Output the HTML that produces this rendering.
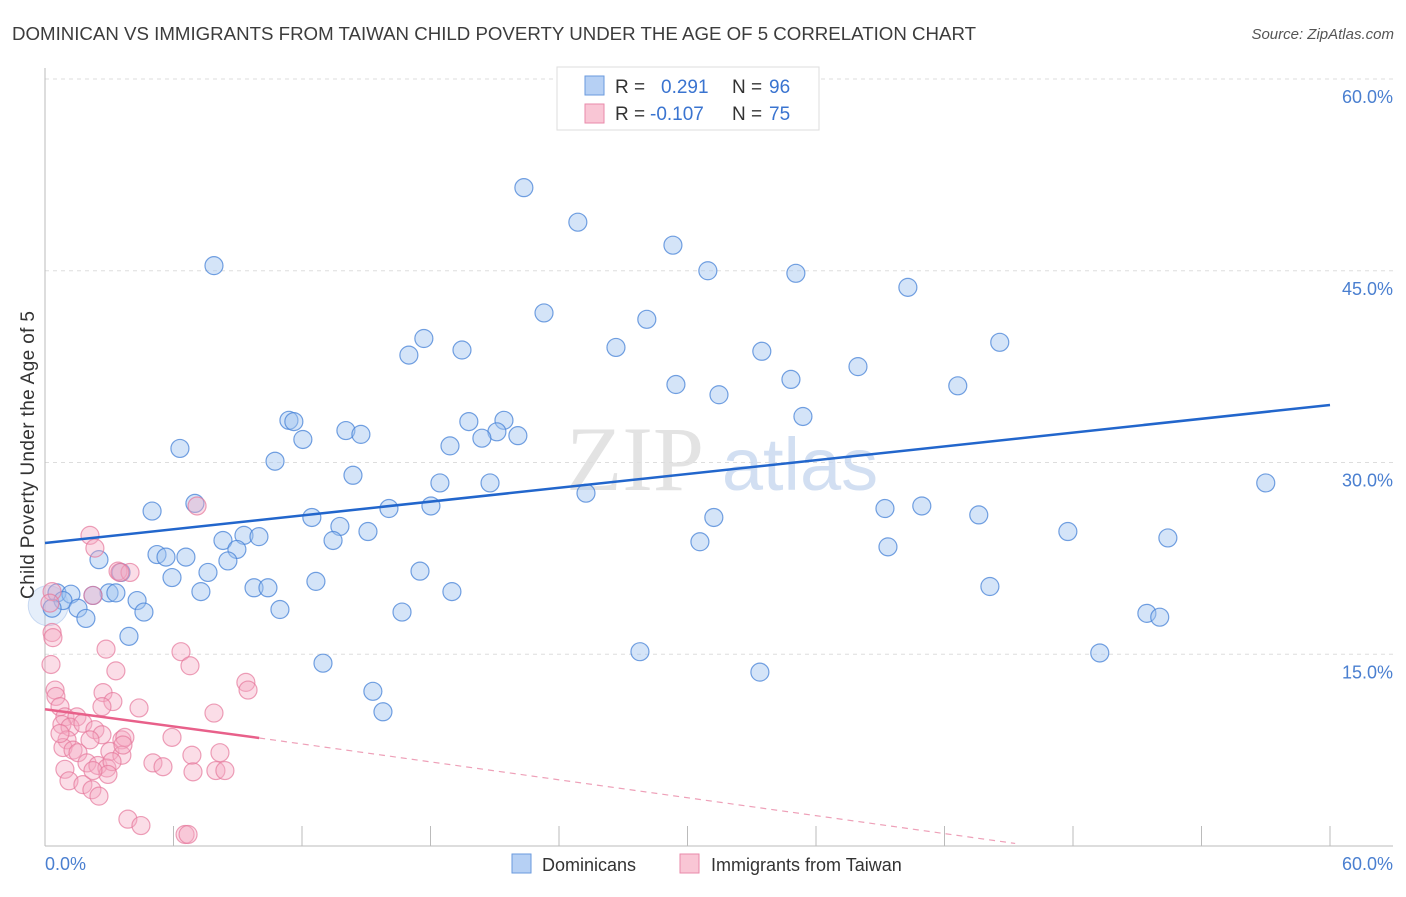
<!DOCTYPE html>
<html><head><meta charset="utf-8"><style>
body{margin:0;background:#fff;font-family:"Liberation Sans",sans-serif;}
svg text{font-family:"Liberation Sans",sans-serif;}
</style></head><body>
<svg width="1406" height="892" viewBox="0 0 1406 892">
<text x="12" y="40" font-size="18" fill="#3c3c3c" textLength="964" lengthAdjust="spacingAndGlyphs">DOMINICAN VS IMMIGRANTS FROM TAIWAN CHILD POVERTY UNDER THE AGE OF 5 CORRELATION CHART</text>
<text x="1394" y="39" font-size="15" fill="#555" font-style="italic" text-anchor="end">Source: ZipAtlas.com</text>
<g id="grid"></g>
<g>
<text x="635" y="490" font-size="92" fill="#ddd" text-anchor="middle" style="font-family:'Liberation Serif',serif" opacity="0.8">ZIP</text>
<text x="800" y="490" font-size="74" fill="#c8d8ef" text-anchor="middle" opacity="0.8">atlas</text>
</g>
<g id="axes"></g>
<g id="pts"></g>
<g id="lines"></g>
<text x="34" y="455" font-size="19" fill="#333" text-anchor="middle" textLength="288" transform="rotate(-90 34 455)">Child Poverty Under the Age of 5</text>
<text x="45" y="870" font-size="18" fill="#4a7fd0">0.0%</text>
<text x="1393" y="870" font-size="18" fill="#4a7fd0" text-anchor="end">60.0%</text>
<g>
<rect x="557" y="67" width="262" height="63" fill="#fff" stroke="#ddd"/>
<rect x="585" y="76" width="19" height="19" fill="#b6d0f4" stroke="#6a9ade"/>
<rect x="585" y="104" width="19" height="19" fill="#f9c6d5" stroke="#e98aaa"/>
<text x="615" y="93" font-size="19" fill="#333">R = </text><text x="661" y="93" font-size="19" fill="#3a74d0">0.291</text>
<text x="732" y="93" font-size="19" fill="#333">N = </text><text x="769" y="93" font-size="19" fill="#3a74d0">96</text>
<text x="615" y="120" font-size="19" fill="#333">R = </text><text x="650" y="120" font-size="19" fill="#3a74d0">-0.107</text>
<text x="732" y="120" font-size="19" fill="#333">N = </text><text x="769" y="120" font-size="19" fill="#3a74d0">75</text>
</g>
<g>
<rect x="512" y="854" width="19" height="19" fill="#b6d0f4" stroke="#6a9ade"/>
<text x="542" y="871" font-size="18" fill="#333">Dominicans</text>
<rect x="680" y="854" width="19" height="19" fill="#f9c6d5" stroke="#e98aaa"/>
<text x="711" y="871" font-size="18" fill="#333">Immigrants from Taiwan</text>
</g>
</svg>
<script>
const yTicks=[15,30,45,60];
const yTickLabels=["15.0%","30.0%","45.0%","60.0%"];
const xTicks=[0,6,12,18,24,30,36,42,48,54,60];
const blueX=[22.36,24.88,29.32,7.89,30.95,35.06,40.29,23.30,28.10,17.69,16.99,19.47,26.66,33.47,44.58,29.46,31.47,34.83,37.96,42.62,11.39,11.62,12.04,14.05,14.75,19.79,21.43,21.10,20.40,22.08,35.39,6.30,18.91,10.74,14.38,18.44,20.78,25.26,5.00,7.00,12.46,16.06,18.02,13.77,15.08,13.45,31.23,39.22,40.94,43.60,47.76,52.43,57.00,30.58,39.36,8.31,9.29,9.99,8.96,8.54,5.23,5.65,6.58,2.52,3.55,5.93,7.61,12.65,17.51,9.76,10.41,7.28,19.00,44.12,0.56,1.21,2.99,3.31,2.24,0.84,4.30,1.54,0.33,1.91,4.62,10.97,16.67,51.45,52.05,3.92,27.78,49.25,12.98,33.38,15.31,15.78];
const blueY=[51.5,48.8,47.0,45.4,45.0,44.8,43.7,41.7,41.2,39.7,38.4,38.8,39.0,38.7,39.4,36.1,35.3,36.5,37.5,36.0,33.3,33.2,31.8,32.5,32.2,33.2,33.3,32.4,31.9,32.1,33.6,31.1,31.3,30.1,29.0,28.4,28.4,27.6,26.2,26.8,25.7,26.4,26.6,25.0,24.6,23.9,25.7,26.4,26.6,25.9,24.6,24.1,28.4,23.8,23.4,23.9,24.3,24.2,23.2,22.3,22.8,22.6,22.6,22.4,21.4,21.0,21.4,20.7,21.5,20.2,20.2,19.9,19.9,20.3,19.8,19.7,19.8,19.8,19.6,19.2,19.2,18.6,18.6,17.8,18.3,18.5,18.3,18.2,17.9,16.4,15.2,15.1,14.3,13.6,12.1,10.5];
const pinkX=[2.10,2.33,3.41,3.97,3.50,2.24,0.33,0.33,0.37,2.85,6.35,6.77,0.28,3.31,9.38,9.48,0.47,0.51,2.71,3.17,2.66,0.70,4.39,7.89,0.93,1.49,0.79,1.17,1.77,2.33,2.66,3.59,5.93,1.03,2.10,3.73,0.84,1.31,1.54,3.03,3.59,6.86,8.17,1.96,2.47,2.89,3.13,5.04,5.51,6.91,7.98,8.40,0.93,2.94,1.12,1.77,2.19,2.52,3.87,4.48,6.54,6.68,3.64,2.24,0.70,7.10,0.23];
const pinkY=[24.3,23.3,21.5,21.4,21.4,19.6,19.9,16.7,16.3,15.4,15.2,14.1,14.2,13.7,12.8,12.2,12.2,11.7,12.0,11.3,10.9,10.9,10.8,10.4,10.1,10.1,9.5,9.3,9.6,9.1,8.7,8.3,8.5,8.3,8.3,8.5,7.7,7.5,7.3,7.4,7.1,7.1,7.3,6.5,6.3,6.1,6.6,6.5,6.2,5.8,5.9,5.9,6.0,5.6,5.1,4.8,4.4,3.9,2.1,1.6,0.9,0.9,7.9,5.9,8.8,26.6,19.0];
const blueTrend=[[0,23.7],[60,34.5]];
const pinkTrendSolid=[[0,10.7],[10,8.45]];
const pinkTrendDash=[[10,8.45],[45.3,0.2]];

const NS="http://www.w3.org/2000/svg";
const X0=45,X1=1330,Y0=846,Y60=79;
const sx=v=>X0+v*(X1-X0)/60;
const sy=v=>Y0-v*(Y0-Y60)/60;
function mk(tag,attrs,parent){const e=document.createElementNS(NS,tag);for(const k in attrs)e.setAttribute(k,attrs[k]);parent.appendChild(e);return e;}
const grid=document.getElementById('grid'),axes=document.getElementById('axes'),pts=document.getElementById('pts'),lines=document.getElementById('lines');
yTicks.forEach((t,i)=>{
 const l=mk('line',{x1:X0,x2:1393,y1:sy(t),y2:sy(t),stroke:'#ddd','stroke-dasharray':'4,4'},grid);
 
 
 const tx=mk('text',{x:1393,y:sy(t)+24,'font-size':18,fill:'#4a7fd0','text-anchor':'end'},grid);
 tx.textContent=yTickLabels[i];
 
 
});
const al=mk('line',{x1:X0,x2:X0,y1:68,y2:Y0,stroke:'#bbb'},axes);


const bl=mk('line',{x1:X0,x2:1393,y1:Y0,y2:Y0,stroke:'#bbb'},axes);


xTicks.forEach(t=>{
 const tk=mk('line',{x1:sx(t),x2:sx(t),y1:Y0-20,y2:Y0,stroke:'#bbb'},axes);
 
 
});
const big=mk('circle',{cx:sx(0.15),cy:sy(18.8),r:20,fill:'rgba(170,200,240,0.3)',stroke:'rgba(120,160,220,0.35)'},pts);


blueX.forEach((x,i)=>{
 const c=mk('circle',{cx:sx(x),cy:sy(blueY[i]),r:9,fill:'rgba(160,196,240,0.45)',stroke:'rgba(70,130,215,0.75)','stroke-width':1.2},pts);
 
 
});
pinkX.forEach((x,i)=>{
 const c=mk('circle',{cx:sx(x),cy:sy(pinkY[i]),r:9,fill:'rgba(245,170,195,0.4)',stroke:'rgba(230,120,155,0.7)','stroke-width':1.2},pts);
 
 
});
const b=mk('line',{x1:sx(blueTrend[0][0]),y1:sy(blueTrend[0][1]),x2:sx(blueTrend[1][0]),y2:sy(blueTrend[1][1]),stroke:'#2266cc','stroke-width':2.5},lines);


const p=mk('line',{x1:sx(pinkTrendSolid[0][0]),y1:sy(pinkTrendSolid[0][1]),x2:sx(pinkTrendSolid[1][0]),y2:sy(pinkTrendSolid[1][1]),stroke:'#e8608a','stroke-width':2.5},lines);


const pd=mk('line',{x1:sx(pinkTrendDash[0][0]),y1:sy(pinkTrendDash[0][1]),x2:sx(pinkTrendDash[1][0]),y2:sy(pinkTrendDash[1][1]),stroke:'#eea0b8','stroke-width':1.2,'stroke-dasharray':'6,5'},lines);


</script>
</body></html>
